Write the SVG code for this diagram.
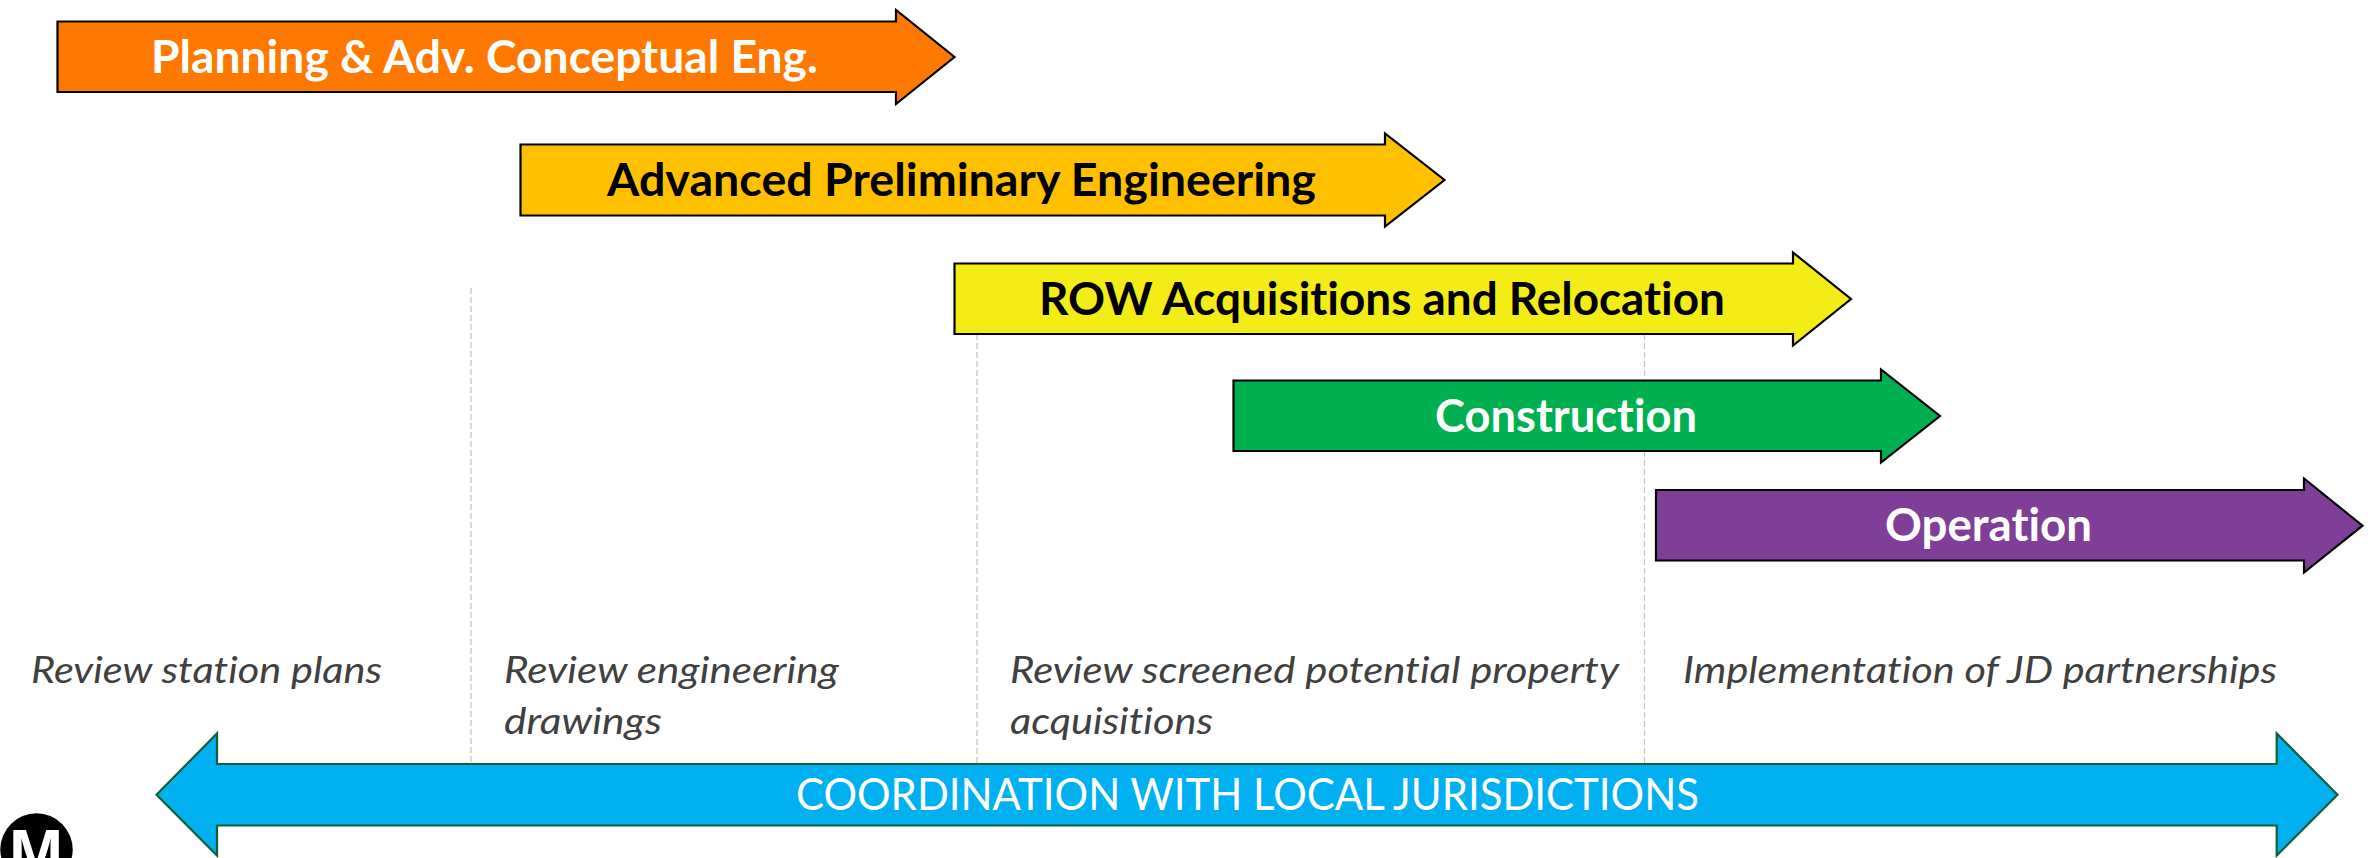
<svg xmlns="http://www.w3.org/2000/svg" width="2374" height="858" viewBox="0 0 2374 858">
<style>
text{font-variant-ligatures:none;font-kerning:normal}
.bar{stroke:#000;stroke-width:2.2;stroke-linejoin:miter}
.t{font-family:Lato,"Open Sans",sans-serif;font-size:45px;font-weight:700}
.w{fill:#fff}.k{fill:#000}
.n{font-family:Lato,"Open Sans",sans-serif;font-size:36px;font-style:italic;fill:#404040}
.c{font-family:Lato,"Open Sans",sans-serif;font-size:43.500px;fill:#fff}
.d{stroke:#c4c4c4;stroke-width:1.2;stroke-dasharray:6 3;fill:none}
</style>
<rect width="2374" height="858" fill="#fff"/>
<g id="connectors">
<path class="d" d="M471 288V764"/>
<path class="d" d="M977 334V764"/>
<path class="d" d="M1644.500 334V764"/>
</g>
<g id="planning">
<polygon class="bar" fill="#FF7900" points="57.500,21.500 896,21.500 896,10 954.500,57 896,104 896,92 57.500,92"/>
<text class="t w" x="151" y="72.500" textLength="667" lengthAdjust="spacingAndGlyphs">Planning &amp; Adv. Conceptual Eng.</text>
</g>
<g id="preliminary">
<polygon class="bar" fill="#FFC000" points="520.500,144.500 1385,144.500 1385,133.500 1444.500,180 1385,226.500 1385,215.500 520.500,215.500"/>
<text class="t k" x="607" y="195.500" textLength="709" lengthAdjust="spacingAndGlyphs">Advanced Preliminary Engineering</text>
</g>
<g id="row">
<polygon class="bar" fill="#F4EC17" points="954.500,263.500 1793,263.500 1793,252.500 1851,299 1793,345.500 1793,334 954.500,334"/>
<text class="t k" x="1039" y="314.500" textLength="686" lengthAdjust="spacingAndGlyphs">ROW Acquisitions and Relocation</text>
</g>
<g id="construction">
<polygon class="bar" fill="#00B050" points="1233.500,380.500 1881,380.500 1881,369.500 1940,416 1881,462.500 1881,451 1233.500,451"/>
<text class="t w" x="1435" y="431.500" textLength="262" lengthAdjust="spacingAndGlyphs">Construction</text>
</g>
<g id="operation">
<polygon class="bar" fill="#7F3F98" points="1656,490 2304,490 2304,478.500 2362.500,525.700 2304,572.500 2304,560.500 1656,560.500"/>
<text class="t w" x="1885" y="540.500" textLength="207" lengthAdjust="spacingAndGlyphs">Operation</text>
</g>
<g id="notes">
<text class="n" x="31" y="683" textLength="351" lengthAdjust="spacingAndGlyphs">Review station plans</text>
<text class="n" x="504" y="683" textLength="335" lengthAdjust="spacingAndGlyphs">Review engineering</text>
<text class="n" x="504" y="733.500" textLength="158" lengthAdjust="spacingAndGlyphs">drawings</text>
<text class="n" x="1010" y="683" textLength="609" lengthAdjust="spacingAndGlyphs">Review screened potential property</text>
<text class="n" x="1010" y="733.500" textLength="203" lengthAdjust="spacingAndGlyphs">acquisitions</text>
<text class="n" x="1683" y="683" textLength="594" lengthAdjust="spacingAndGlyphs">Implementation of JD partnerships</text>
</g>
<g id="coordination">
<polygon fill="#00B0F0" stroke="#0F6038" stroke-width="2.200" points="156.500,794.700 217,733.500 217,764 2276.700,764 2276.700,733.500 2337.500,794.700 2276.700,855.500 2276.700,825.500 217,825.500 217,855.500"/>
<text class="c" x="796" y="809.500" textLength="903" lengthAdjust="spacingAndGlyphs">COORDINATION WITH LOCAL JURISDICTIONS</text>
</g>
<g id="logo">
<circle cx="36.500" cy="849.500" r="36.200" fill="#000"/>
<text x="36" y="874.500" text-anchor="middle" font-family="Liberation Sans, Arial, sans-serif" font-weight="700" font-size="65" fill="#fff">M</text>
</g>
</svg>
